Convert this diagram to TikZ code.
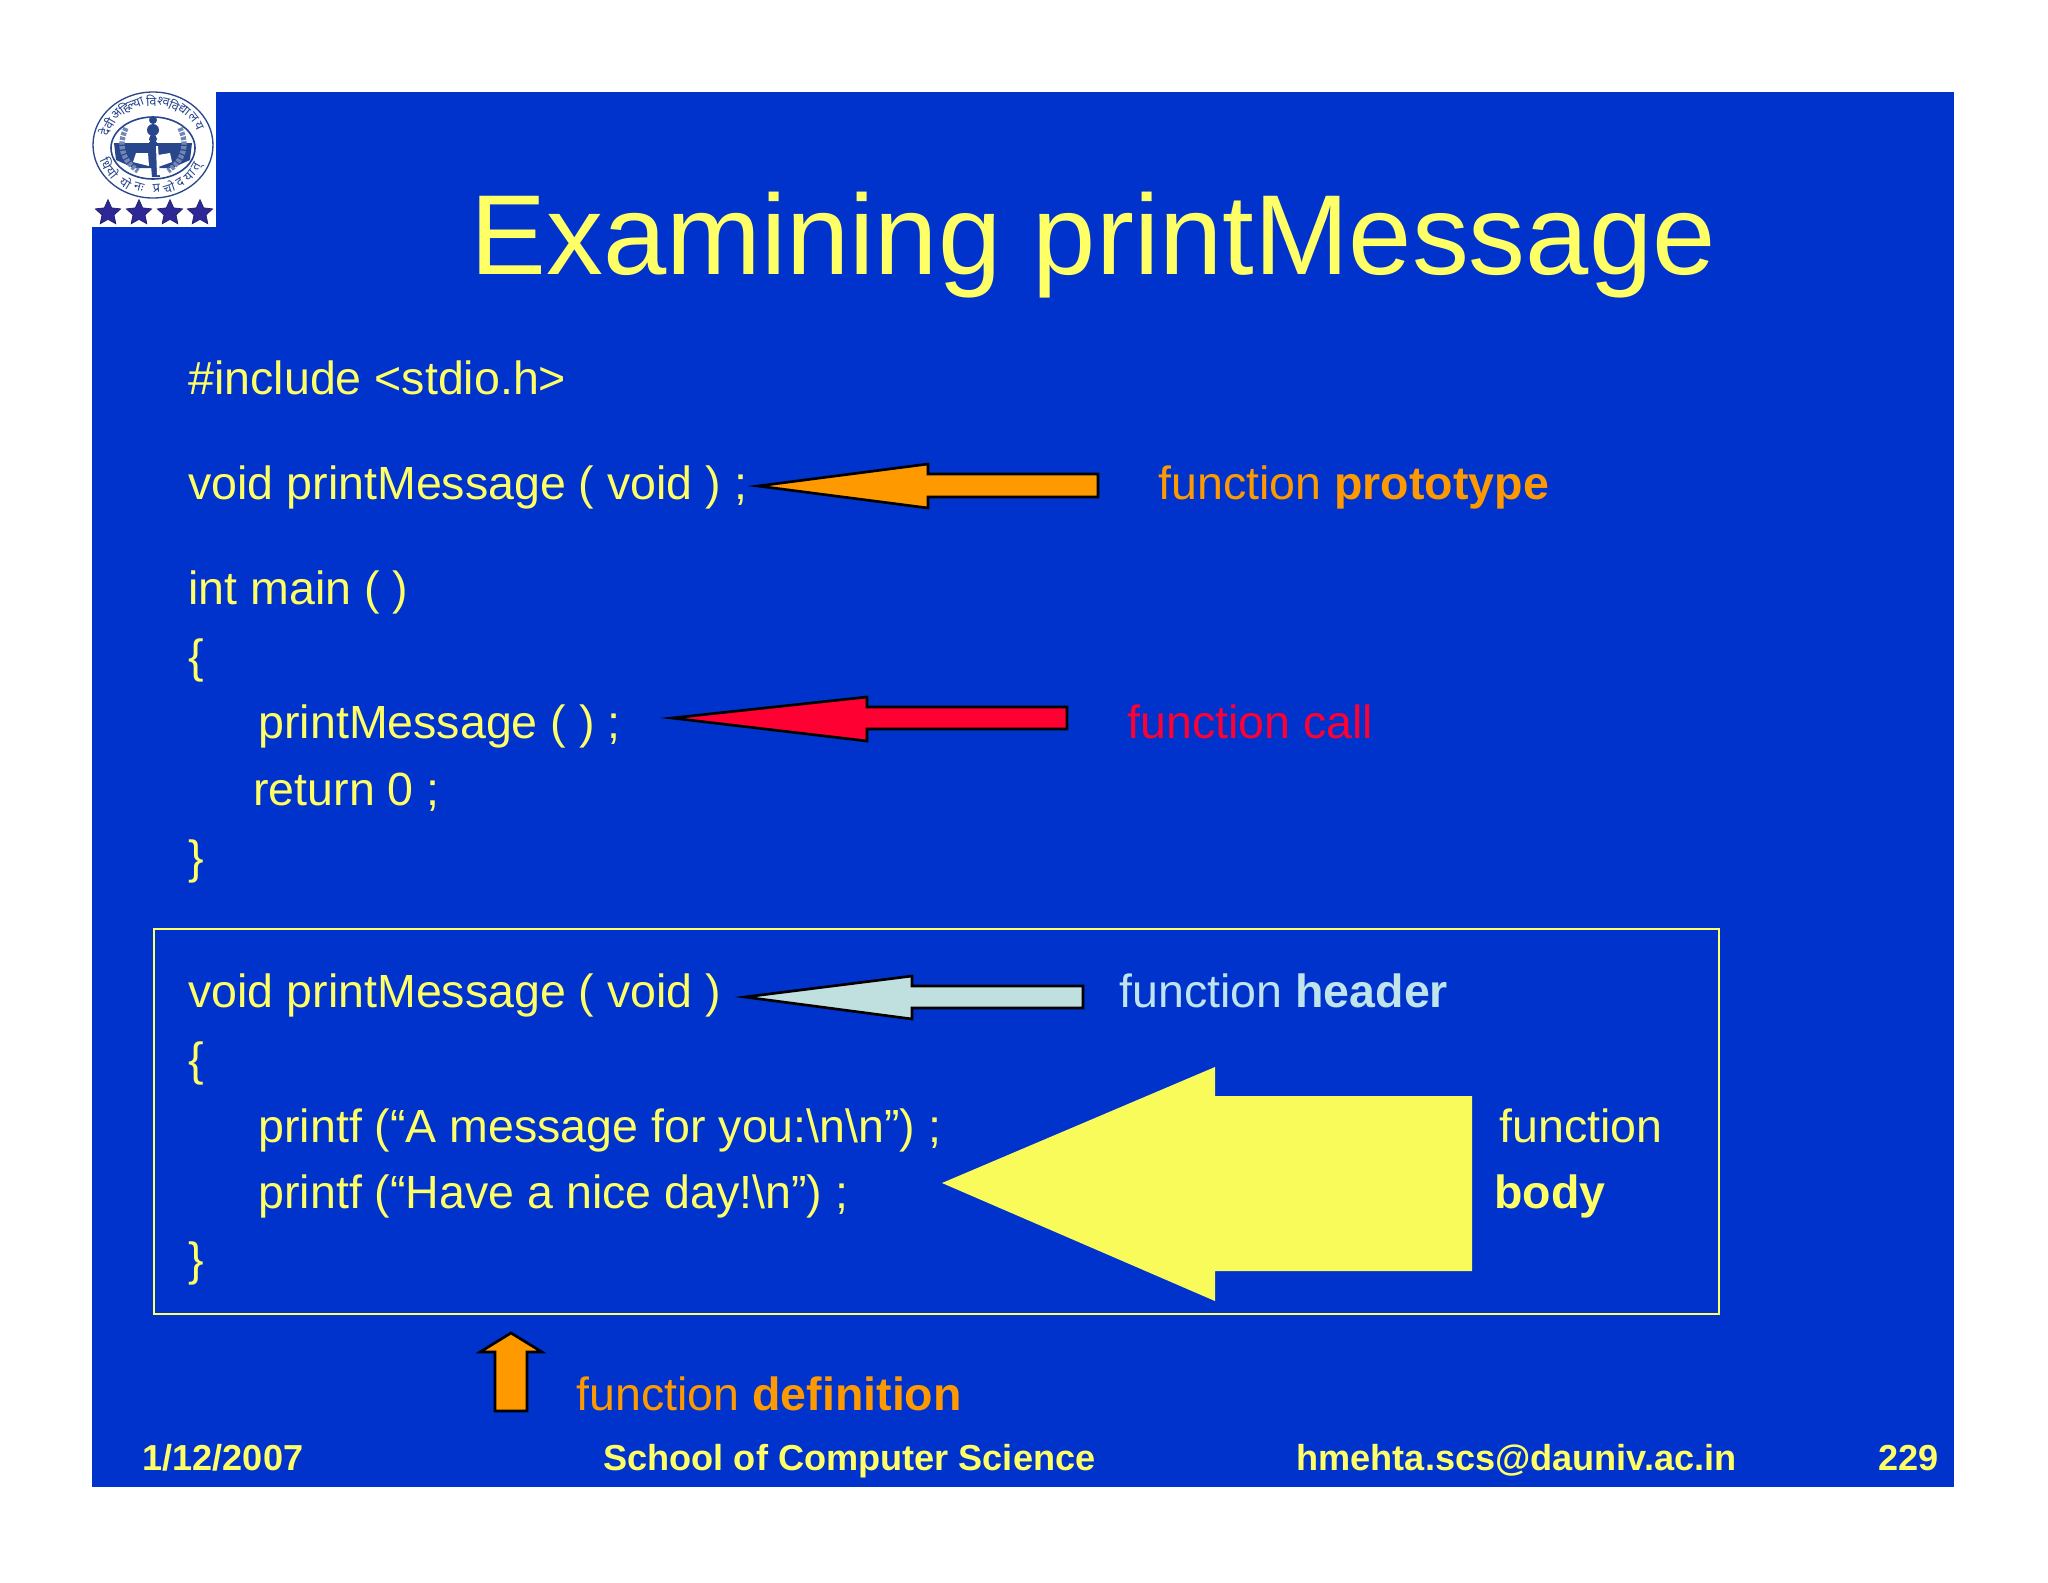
\documentclass[tikz,border=0pt]{standalone}
\usepackage{fontspec}
\setmainfont{Liberation Sans}
\newfontfamily\devafont[Script=Devanagari]{Noto Sans}
\usetikzlibrary{shapes.geometric}

\definecolor{slideblue}{RGB}{0,51,204}
\definecolor{textyellow}{RGB}{255,255,102}
\definecolor{arroworange}{RGB}{255,153,0}
\definecolor{arrowred}{RGB}{255,0,51}
\definecolor{arrowpale}{RGB}{192,224,224}
\definecolor{headerblue}{RGB}{192,228,236}
\definecolor{bodyyellow}{RGB}{249,251,91}
\definecolor{sealblue}{RGB}{40,70,140}
\definecolor{starblue}{RGB}{45,40,150}

\tikzset{every picture/.style={line width=0.75pt}}
\tikzset{
  txt/.style={anchor=base west,inner sep=0pt,font=\fontsize{34.9}{40}\selectfont},
  code/.style={txt,text=textyellow},
  foot/.style={anchor=base west,inner sep=0pt,text=textyellow,font=\fontsize{27.1}{30}\selectfont\bfseries},
  blockarrow/.style={draw=black,line width=2pt,line join=miter},
  sealletter/.style={inner sep=0pt,text=sealblue,font=\fontsize{9.5}{10}\selectfont\devafont},
  sealstar/.style={star,star points=5,star point ratio=2.1,minimum size=20pt,inner sep=0pt,fill=starblue,draw=starblue!70!black,line width=0.5pt}
}

\begin{document}
\begin{tikzpicture}[x=0.75pt,y=0.75pt,yscale=-1,xscale=1]
\useasboundingbox (0,0) rectangle (2048,1582);

%Shape: Slide
\fill [white] (0,0) rectangle (2048,1582);
\fill [slideblue] (92,91.5) rectangle (1954,1487);
%Shape: Logo ground
\fill [white] (92,91) rectangle (216,227);

%Shape: Seal
\draw [sealblue,line width=1pt] (153,145) ellipse (60 and 53);
\draw [sealblue,line width=1.2pt] (153,148) ellipse (42 and 31);
\fill [sealblue] (114,143) -- (192,143) -- (190,160) -- (172,168) -- (134,168) -- (116,160) -- cycle;
\fill [white] (136,153) -- (148,153) -- (149,166) -- (133,162) -- cycle;
\fill [white] (158,155) -- (170,153) -- (172,162) -- (158,167) -- cycle;
%Shape: Wreath
\draw [sealblue!65,line width=4pt,dash pattern={on 2.5pt off 1pt}] (126,128) .. controls (118,145) and (122,160) .. (138,171);
\draw [sealblue!65,line width=4pt,dash pattern={on 2.5pt off 1pt}] (180,128) .. controls (188,145) and (184,160) .. (168,171);
%Shape: Tower
\fill [sealblue] (153,120) circle (4) (153,130) circle (6) (153,139) circle (4);
\fill [sealblue] (149,142) -- (157,142) -- (160,177) -- (152,177) -- cycle;
\fill [white] (156,146) -- (158,146) -- (160,175) -- (157,175) -- cycle;
% Seal lettering
\foreach \i/\ch/\ang in {1/दे/163,2/वी/150,3/अ/136,4/हि/124,5/ल्या/110,6/वि/92,7/श्व/78,8/वि/65,9/द्या/52,10/ल/38,11/य/26}
  \node [sealletter,rotate=\ang-90] (topch\i) at ({153+51*cos(\ang)},{145-44*sin(\ang)}) {\ch};
\foreach \i/\ch/\ang in {1/धि/205,2/यो/218,3/यो/238,4/नः/254,5/प्र/274,6/चो/288,7/द/302,8/या/316,9/त्/330}
  \node [sealletter,rotate=\ang+90] (lowch\i) at ({153+51*cos(\ang)},{145-44*sin(\ang)}) {\ch};
% Stars
\foreach \i/\sx in {1/108,2/139,3/170,4/200}
  \node [sealstar] (star\i) at (\sx,213) {};

%Shape: Box round the definition
\draw [textyellow,line width=1.7pt] (154,929) rectangle (1719,1314);

%Shape: Arrow prototype
\draw [blockarrow,fill=arroworange] (758,486) -- (928,464) -- (928,474) -- (1098,474) -- (1098,497) -- (928,497) -- (928,508) -- cycle;
%Shape: Arrow call
\draw [blockarrow,fill=arrowred] (672,718) -- (867,697) -- (867,707) -- (1067,707) -- (1067,729) -- (867,729) -- (867,741) -- cycle;
%Shape: Arrow header
\draw [blockarrow,fill=arrowpale] (745,997) -- (912,976) -- (912,986) -- (1083,986) -- (1083,1008) -- (912,1008) -- (912,1019) -- cycle;
%Shape: Arrow body
\fill [bodyyellow] (942,1183) -- (1215,1067) -- (1215,1096) -- (1472,1096) -- (1472,1271) -- (1215,1271) -- (1215,1301) -- cycle;
%Shape: Arrow definition
\draw [blockarrow,fill=arroworange] (511,1333) -- (542,1352) -- (527,1352) -- (527,1411) -- (495,1411) -- (495,1352) -- (480,1352) -- cycle;

% Text Node
\draw (470,274) node [anchor=base west,inner sep=0pt,text=textyellow,font=\fontsize{85.3}{90}\selectfont] (title) {Examining printMessage};
% Text Node
\draw (188,394) node [code] (include) {\#include <stdio.h>};
\draw (188,499.5) node [code] (proto) {void printMessage ( void ) ;};
\draw (188,604) node [code] (mainline) {int main ( )};
\draw (188,672) node [code] (openmain) {\{};
\draw (258,738) node [code] (callline) {printMessage ( ) ;};
\draw (253,805) node [code] (returnline) {return 0 ;};
\draw (188,873) node [code] (closemain) {\}};
% Text Node
\draw (188,1007) node [code] (headerline) {void printMessage ( void )};
\draw (188,1075) node [code] (openbody) {\{};
\draw (258,1142) node [code] (printfone) {printf (“A message for you:\textbackslash n\textbackslash n”) ;};
\draw (258,1208.5) node [code] (printftwo) {printf (“Have a nice day!\textbackslash n”) ;};
\draw (188,1275.5) node [code] (closebody) {\}};
% Text Node
\draw (1158,499.5) node [txt,text=arroworange] (protolabel) {function \textbf{prototype}};
\draw (1127,738) node [txt,text=arrowred] (calllabel) {function call};
\draw (1119,1007) node [txt,text=headerblue] (headerlabel) {function \textbf{header}};
\draw (1499,1142) node [code] (bodylabel) {function};
\draw (1494,1208.5) node [code] (bodyword) {\textbf{body}};
\draw (576,1410) node [txt,text=arroworange] (deflabel) {function \textbf{definition}};
% Text Node
\draw (142,1470) node [foot] (datefoot) {1/12/2007};
\draw (603,1470) node [foot] (schoolfoot) {School of Computer Science};
\draw (1296,1470) node [foot] (mailfoot) {hmehta.scs@dauniv.ac.in};
\draw (1878,1470) node [foot] (pagefoot) {229};

\end{tikzpicture}
\end{document}
